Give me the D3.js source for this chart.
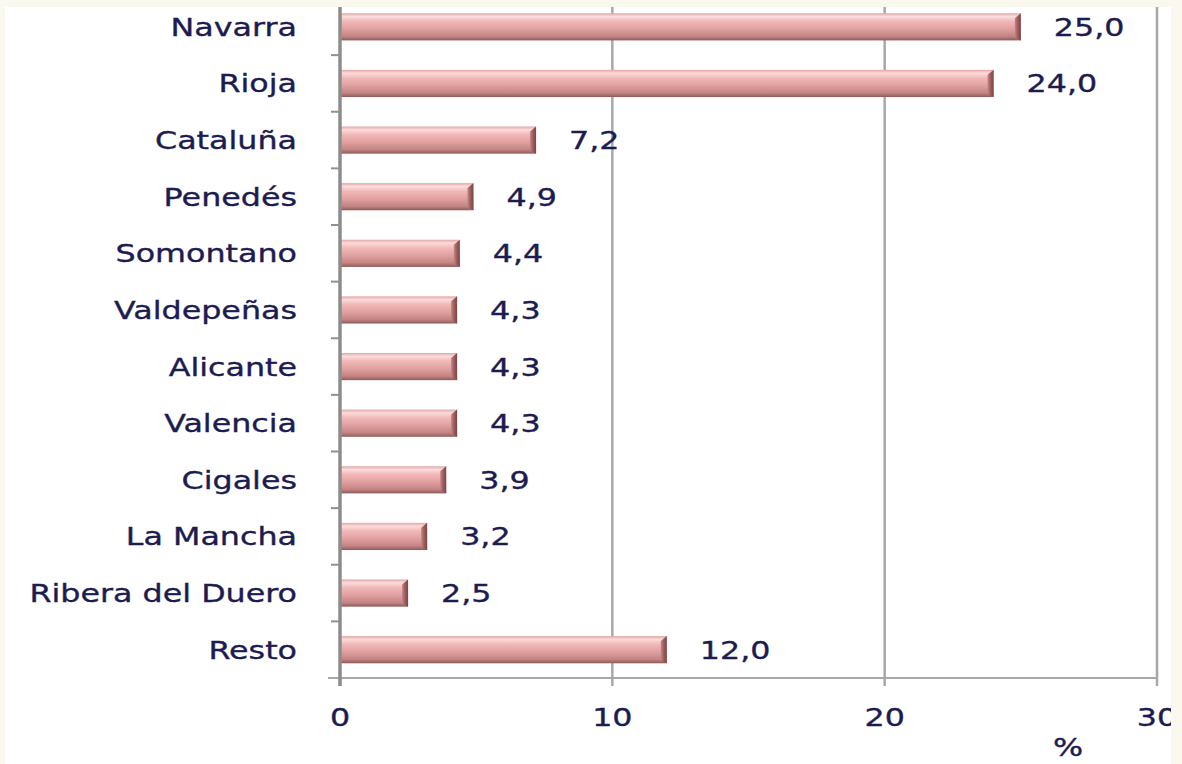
<!DOCTYPE html>
<html>
<head>
<meta charset="utf-8">
<script src="https://d3js.org/d3.v7.min.js"></script>
<style>
  body { margin: 0; background: #fff; }
  text { font-family: "DejaVu Sans", sans-serif; }
</style>
</head>
<body>
<div id="chart"></div>
<script>
// data
var categories = ["Navarra", "Rioja", "Cataluña", "Penedés", "Somontano", "Valdepeñas",
                  "Alicante", "Valencia", "Cigales", "La Mancha", "Ribera del Duero", "Resto"];
var values = [25.0, 24.0, 7.2, 4.9, 4.4, 4.3, 4.3, 4.3, 3.9, 3.2, 2.5, 12.0];
var xTicks = [0, 10, 20, 30];
var unitLabel = "%";

var W = 1182, H = 764;
var plot = {left: 340, right: 1157, top: -1.5, bottom: 678};
var stretch = 1.27;   // text in the source is stretched sideways
var fontSize = 25;
var textColor = "#1c1c50";

var svg = d3.select("#chart").append("svg")
    .attr("width", W)
    .attr("height", H);

// gradients for the bevelled bars
var defs = svg.append("defs");
var grad = defs.append("linearGradient")
    .attr("id", "barGrad")
    .attr("x1", 0).attr("y1", 0).attr("x2", 0).attr("y2", 1);
[[0, "#e2a6a6"], [0.12, "#fcdcdc"], [0.3, "#f2b8b8"], [0.6, "#df9e9e"], [0.85, "#c48484"], [1, "#8e5a5a"]]
  .forEach(function(s) { grad.append("stop").attr("offset", s[0]).attr("stop-color", s[1]); });
var capGrad = defs.append("linearGradient")
    .attr("id", "capGrad")
    .attr("x1", 0).attr("y1", 0).attr("x2", 1).attr("y2", 0);
[[0, "#c48686"], [0.5, "#9c5c5c"], [1, "#7a4444"]]
  .forEach(function(s) { capGrad.append("stop").attr("offset", s[0]).attr("stop-color", s[1]); });

var x = d3.scaleLinear().domain([0, 30]).range([plot.left, plot.right]);
var y = d3.scaleBand().domain(categories)
    .range([plot.top, plot.bottom])
    .paddingInner(0.52).paddingOuter(0.26);
var step = y.step();

// gridlines
svg.append("g").selectAll("line")
    .data(xTicks.filter(function(t) { return t > 0; }))
    .join("line")
    .attr("x1", d => x(d)).attr("x2", d => x(d))
    .attr("y1", plot.top).attr("y2", plot.bottom + 8)
    .attr("stroke", "#a8a8a8")
    .attr("stroke-width", 2.5);

// x axis line + ticks
svg.append("line")
    .attr("x1", plot.left - 12).attr("x2", plot.right)
    .attr("y1", plot.bottom).attr("y2", plot.bottom)
    .attr("stroke", "#a8a8a8").attr("stroke-width", 2);
svg.append("line")
    .attr("x1", x(0)).attr("x2", x(0))
    .attr("y1", plot.bottom).attr("y2", plot.bottom + 8)
    .attr("stroke", "#909090").attr("stroke-width", 2.5);

// bars
var bars = svg.append("g").selectAll("g")
    .data(categories)
    .join("g");
bars.append("rect")
    .attr("x", x(0) + 1)
    .attr("y", d => y(d))
    .attr("width", (d, i) => x(values[i]) - x(0) - 1)
    .attr("height", y.bandwidth())
    .attr("fill", "url(#barGrad)");
bars.append("path")
    .attr("d", function(d, i) {
      var xe = x(values[i]), yt = y(d), h = y.bandwidth();
      return "M" + (xe - 6) + "," + (yt + 5) + "L" + xe + "," + yt +
             "L" + xe + "," + (yt + h) + "L" + (xe - 6) + "," + (yt + h - 3) + "Z";
    })
    .attr("fill", "url(#capGrad)");

// y axis line + ticks at band boundaries
svg.append("line")
    .attr("x1", x(0)).attr("x2", x(0))
    .attr("y1", 0).attr("y2", plot.bottom + 8)
    .attr("stroke", "#8c8c8c").attr("stroke-width", 3.5);
svg.append("g").selectAll("line")
    .data(d3.range(1, categories.length))
    .join("line")
    .attr("x1", x(0) - 9).attr("x2", x(0))
    .attr("y1", i => plot.top + i * step).attr("y2", i => plot.top + i * step)
    .attr("stroke", "#909090").attr("stroke-width", 2);

function stretchedText(sel, px, py, txt, anchor) {
  sel.append("g")
      .attr("transform", "translate(" + px + "," + py + ") scale(" + stretch + ",1)")
    .append("text")
      .attr("text-anchor", anchor)
      .attr("dy", "0.36em")
      .attr("font-size", fontSize)
      .attr("fill", textColor)
      .attr("stroke", textColor)
      .attr("stroke-width", 0.35)
      .text(txt);
}

// category labels
var catG = svg.append("g");
categories.forEach(function(c) {
  stretchedText(catG, 297, y(c) + y.bandwidth() / 2, c, "end");
});

// value labels
var valG = svg.append("g");
categories.forEach(function(c, i) {
  stretchedText(valG, x(values[i]) + 33, y(c) + y.bandwidth() / 2,
                d3.format(".1f")(values[i]).replace(".", ","), "start");
});

// x tick labels
var tickG = svg.append("g");
xTicks.forEach(function(t) {
  stretchedText(tickG, x(t), 717, String(t), "middle");
});
stretchedText(svg, 1068, 747, unitLabel, "middle");

// cream frame around the cropped slide
svg.append("rect").attr("x", 0).attr("y", 0).attr("width", W).attr("height", 7).attr("fill", "#fbf8f0");
svg.append("rect").attr("x", 0).attr("y", 0).attr("width", 5).attr("height", H).attr("fill", "#fbf8f0");
svg.append("rect").attr("x", 1171).attr("y", 0).attr("width", W - 1171).attr("height", H).attr("fill", "#fbf8f0");
</script>
</body>
</html>
